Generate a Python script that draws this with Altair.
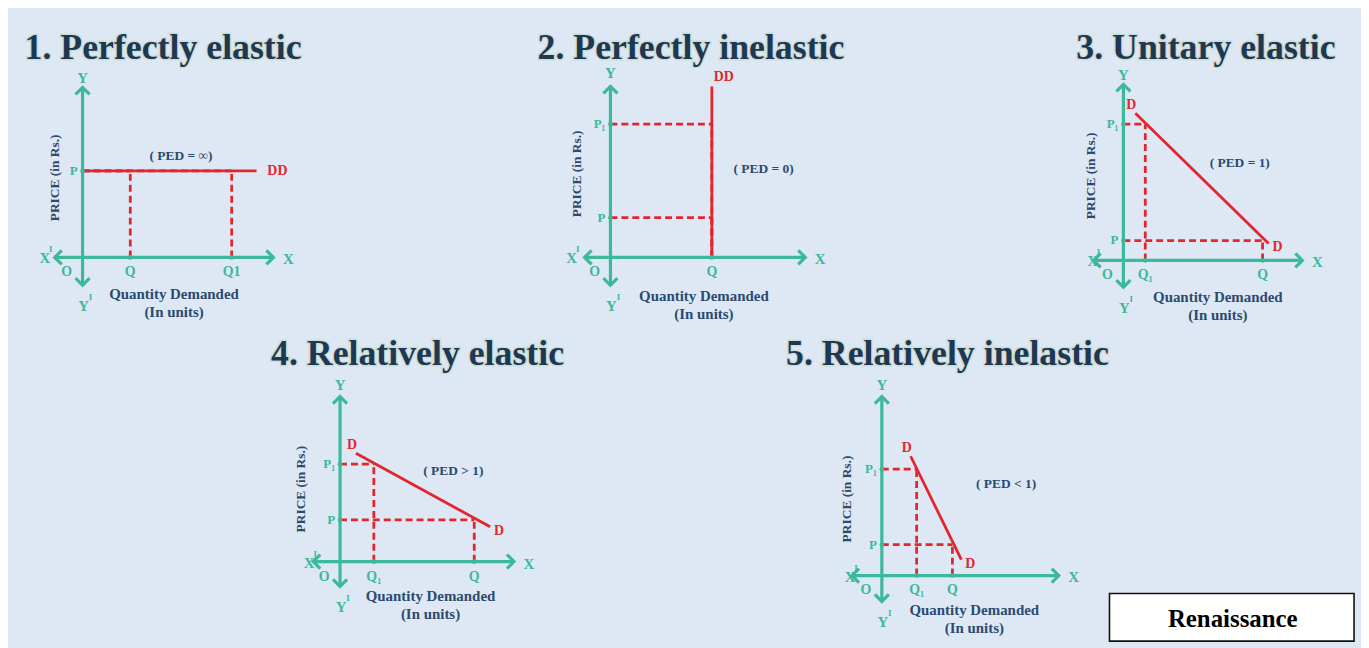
import altair as alt
import pandas as pd

BG = "#dde8f4"
TEAL = "#3cb89b"
RED = "#e3262d"
NAVY = "#2b4a70"
TITLE_C = "#1d3853"
SERIF = "Liberation Serif"

# ---- content -------------------------------------------------------------
titles = ["1. Perfectly elastic", "2. Perfectly inelastic", "3. Unitary elastic",
          "4. Relatively elastic", "5. Relatively inelastic"]
ped_text = ["( PED = \u221e)", "( PED = 0)", "( PED = 1)", "( PED > 1)", "( PED < 1)"]
demand_names = [("", "DD"), ("", "DD"), ("D", "D"), ("D", "D"), ("D", "D")]

# price levels / quantities (pixels from its origin)
price_p = [87, 40, 20, 42, 31]
price_p1 = [None, 134, 137, 98, 107]
qty_q = [48, 102, 140, 135, 71]
qty_q1 = [150, None, 22, 34, 35]
q1_name = ["Q1", "", "Q\u2081", "Q\u2081", "Q\u2081"]
# (quantity, price) pairs marked by dashed guides
guide_pairs = [[("q", "p"), ("q1", "p")], [("q", "p"), ("q", "p1")],
               [("q", "p"), ("q1", "p1")], [("q", "p"), ("q1", "p1")],
               [("q", "p"), ("q1", "p1")]]
# demand curve end points (quantity, price)
demand_q0 = [0, 102, 12, 16, 29]
demand_p0 = [87, 172, 148, 109, 120]
demand_q1 = [175, 102, 146, 151, 80]
demand_p1 = [87, 0, 17, 35, 16]

# ---- layout of the five small diagrams -----------------------------------
origin_x = [83, 614, 1130, 342, 887]
origin_y = [257, 257, 260, 563, 577]
axis_up = [171, 172, 177, 166, 180]
axis_down = [28, 28, 27, 25, 26]
axis_left = [28, 26, 30, 27, 30]
axis_right = [192, 196, 180, 175, 178]
y_label_gap = [9, 13, 9, 12, 12]
xprime_dx = [-10, -13, -1, -4, -2]
ped_dx = [99, 154, 117, 114, 125]
ped_dy = [102, 89, 98, 91, 92]
price_lab_dx = [-28, -34, -33, -39, -35]
price_lab_dy = [80, 84, 85, 73, 77]
qty_lab_dx = [92, 94, 95, 91, 93]
qty_lab_dy = [-37, -39, -37, -35, -35]
title_x = [164, 695, 1213, 420, 953]
title_y = [57, 57, 57, 365, 365]

segs, heads, dots, labels = [], [], [], []


def P(i, dx, dy):
    return origin_x[i] + dx, origin_y[i] - dy


for i in range(5):
    ox, oy = origin_x[i], origin_y[i]
    # axes
    segs.append(dict(x=ox, y=oy - axis_up[i], x2=ox, y2=oy + axis_down[i], kind="axis"))
    segs.append(dict(x=ox - axis_left[i], y=oy, x2=ox + axis_right[i], y2=oy, kind="axis"))
    heads += [dict(x=ox, y=oy - axis_up[i], ang=0), dict(x=ox, y=oy + axis_down[i], ang=180),
              dict(x=ox + axis_right[i], y=oy, ang=90), dict(x=ox - axis_left[i], y=oy, ang=270)]
    vals = {"p": price_p[i], "p1": price_p1[i], "q": qty_q[i], "q1": qty_q1[i]}
    for qk, pk in guide_pairs[i]:
        q, p = vals[qk], vals[pk]
        x0, y0 = P(i, 0, p)
        x1, y1 = P(i, q, p)
        segs.append(dict(x=x0, y=y0, x2=x1, y2=y1, kind="dash"))
        x0, y0 = P(i, q, 0)
        segs.append(dict(x=x0, y=y0, x2=x1, y2=y1, kind="dash"))
    a = P(i, demand_q0[i], demand_p0[i])
    b = P(i, demand_q1[i], demand_p1[i])
    segs.append(dict(x=a[0], y=a[1], x2=b[0], y2=b[1], kind="demand"))

    # tick dots and tick labels
    for key, name in [("p", "P"), ("p1", "P\u2081")]:
        if vals[key] is not None:
            x, y = P(i, 0, vals[key])
            dots.append(dict(x=x, y=y))
            labels.append(dict(x=x - 5, y=y, text=name, style="tickp"))
    for key, name in [("q", "Q"), ("q1", q1_name[i])]:
        if vals[key] is not None:
            x, y = P(i, vals[key], 0)
            dots.append(dict(x=x, y=y))
            labels.append(dict(x=x, y=y + 15, text=name, style="tick"))

    # axis names
    labels.append(dict(x=ox, y=oy - axis_up[i] - y_label_gap[i], text="Y", style="axisname"))
    labels.append(dict(x=ox + axis_right[i] + 15, y=oy + 2, text="X", style="axisname"))
    labels.append(dict(x=ox - axis_left[i] + xprime_dx[i], y=oy + 1, text="X", style="axisname"))
    labels.append(dict(x=ox - axis_left[i] + xprime_dx[i] + 6, y=oy - 8, text="I", style="sup"))
    labels.append(dict(x=ox + 1, y=oy + axis_down[i] + 21, text="Y", style="axisname"))
    labels.append(dict(x=ox + 8, y=oy + axis_down[i] + 12, text="I", style="sup"))
    labels.append(dict(x=ox - 16, y=oy + 15, text="O", style="tick"))

    # demand names
    top_name, end_name = demand_names[i]
    if i == 0:
        labels.append(dict(x=b[0] + 21, y=b[1], text=end_name, style="dname"))
    elif i == 1:
        labels.append(dict(x=a[0] + 12, y=a[1] - 9, text=end_name, style="dname"))
    else:
        labels.append(dict(x=a[0] - 4, y=a[1] - 8, text=top_name, style="dname"))
        labels.append(dict(x=b[0] + 9, y=b[1] + 4, text=end_name, style="dname"))

    x, y = P(i, ped_dx[i], ped_dy[i])
    labels.append(dict(x=x, y=y, text=ped_text[i], style="ped"))
    x, y = P(i, price_lab_dx[i], price_lab_dy[i])
    labels.append(dict(x=x, y=y, text="PRICE (in Rs.)", style="price"))
    x, y = P(i, qty_lab_dx[i], qty_lab_dy[i])
    labels.append(dict(x=x, y=y, text="Quantity Demanded", style="qty"))
    labels.append(dict(x=x, y=y + 18, text="(In units)", style="qty"))
    labels.append(dict(x=title_x[i], y=title_y[i], text=titles[i], style="title"))

labels.append(dict(x=1240, y=621, text="Renaissance", style="brand"))
box = pd.DataFrame([dict(x=1116, y=595, x2=1362, y2=643)])

seg_df = pd.DataFrame(segs)
head_df = pd.DataFrame(heads)
dot_df = pd.DataFrame(dots)
lab_df = pd.DataFrame(labels)

xs = alt.Scale(domain=[8, 1369], nice=False, zero=False)
ys = alt.Scale(domain=[8, 648], nice=False, zero=False, reverse=True)
X = alt.X("x:Q", scale=xs, axis=None)
Y = alt.Y("y:Q", scale=ys, axis=None)

base_seg = alt.Chart(seg_df)
axes = base_seg.transform_filter("datum.kind == 'axis'").mark_rule(
    color=TEAL, strokeWidth=3.2).encode(x=X, y=Y, x2="x2:Q", y2="y2:Q")
dashes = base_seg.transform_filter("datum.kind == 'dash'").mark_rule(
    color=RED, strokeWidth=2.8, strokeDash=[7, 4]).encode(x=X, y=Y, x2="x2:Q", y2="y2:Q")
demand = base_seg.transform_filter("datum.kind == 'demand'").mark_rule(
    color=RED, strokeWidth=2.8).encode(x=X, y=Y, x2="x2:Q", y2="y2:Q")

arrow = alt.Chart(head_df).mark_point(
    shape="M -1 1 L 0 0 L 1 1", filled=False, color=TEAL, strokeWidth=3.2,
    size=200, opacity=1, strokeJoin="miter").encode(x=X, y=Y, angle=alt.Angle("ang:Q", scale=None))

dot_layer = alt.Chart(dot_df).mark_circle(color=TEAL, size=22, opacity=1).encode(x=X, y=Y)

rect = alt.Chart(box).mark_rect(fill="white", stroke="#111111", strokeWidth=1.6).encode(
    x=X, y=Y, x2="x2:Q", y2="y2:Q")


def text_layer(style, **kw):
    return alt.Chart(lab_df).transform_filter(f"datum.style == '{style}'").mark_text(
        font=SERIF, fontWeight="bold", **kw).encode(x=X, y=Y, text="text:N")


texts = [
    text_layer("title", fontSize=36, color="#c9d8c8", stroke="#cddbcf", strokeWidth=3,
               align="center", baseline="alphabetic", opacity=0.8),
    text_layer("title", fontSize=36, color=TITLE_C, align="center", baseline="alphabetic"),
    text_layer("axisname", fontSize=15, color=TEAL, align="center", baseline="middle"),
    text_layer("sup", fontSize=9, color=TEAL, align="center", baseline="middle"),
    text_layer("tick", fontSize=14, color=TEAL, align="center", baseline="middle"),
    text_layer("tickp", fontSize=13, color=TEAL, align="right", baseline="middle"),
    text_layer("dname", fontSize=14, color=RED, align="center", baseline="middle"),
    text_layer("ped", fontSize=13.5, color=NAVY, align="center", baseline="middle"),
    text_layer("price", fontSize=13.5, color=NAVY, align="center", baseline="middle", angle=270),
    text_layer("qty", fontSize=15, color=NAVY, align="center", baseline="middle"),
    text_layer("brand", fontSize=25, color="black", align="center", baseline="middle"),
]

chart = alt.layer(axes, dashes, demand, arrow, dot_layer, rect, *texts).properties(
    width=1361, height=640, background=BG, padding=0,
    autosize=alt.AutoSizeParams(type="none"),
).configure_view(stroke=None)

chart.save("out.html", embed_options={"renderer": "svg", "actions": False})
